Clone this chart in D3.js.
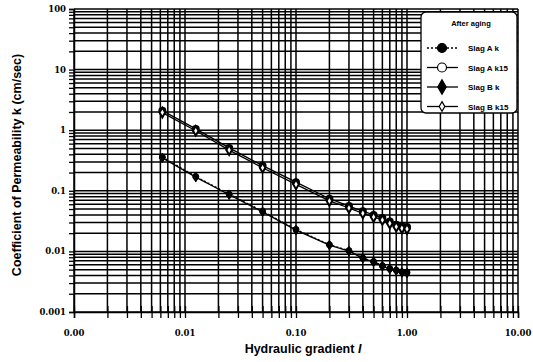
<!DOCTYPE html>
<style>
    body { margin: 0; background: #fff; }
    .tick-label { font-family: "DejaVu Serif", serif; font-size: 8.5px; font-weight: bold; }
    .title { font-family: "Liberation Sans", Arial, sans-serif; font-weight: bold; }
</style>
<svg width="533" height="362"></svg>
<script src="https://d3js.org/d3.v7.min.js"></script>
<script>

    var svg = d3.select("svg"),
        width = +svg.attr("width"),
        height = +svg.attr("height"),
        margin = {top: 9, right: 15, bottom: 50, left: 74};

    // hydraulic gradient values
    var gradient = [0.00625, 0.0125, 0.025, 0.05, 0.1, 0.2, 0.3, 0.4, 0.5, 0.6, 0.7, 0.8, 0.9, 1.0];

    var slagAk   = [0.36, 0.172, 0.088, 0.046, 0.023, 0.0129, 0.0103, 0.0078, 0.0068, 0.0058, 0.0052, 0.0049, 0.0046, 0.0045];
    var slagAk15 = [2.1, 1.05, 0.51, 0.26, 0.139, 0.074, 0.056, 0.046, 0.040, 0.0355, 0.031, 0.0275, 0.026, 0.0252];
    var slagBk   = [0.35, 0.168, 0.086, 0.045, 0.0225, 0.0127, 0.0101, 0.0077, 0.0067, 0.0057, 0.0051, 0.0048, 0.0045, 0.0044];
    var slagBk15 = [1.95, 0.98, 0.47, 0.24, 0.128, 0.068, 0.052, 0.0425, 0.037, 0.033, 0.029, 0.0255, 0.024, 0.0235];

    var xTicks = [0.001, 0.01, 0.1, 1, 10],
        xTickLabels = ["0.00", "0.01", "0.10", "1.00", "10.00"];
    var yTicks = [0.001, 0.01, 0.1, 1, 10, 100],
        yTickLabels = ["0.001", "0.01", "0.1", "1", "10", "100"];

    var series = [
        {name: "Slag A k",   values: slagAk,   marker: "circle",  fill: "#000", dash: "2,2"},
        {name: "Slag A k15", values: slagAk15, marker: "circle",  fill: "#fff", dash: null},
        {name: "Slag B k",   values: slagBk,   marker: "diamond", fill: "#000", dash: null},
        {name: "Slag B k15", values: slagBk15, marker: "diamond", fill: "#fff", dash: null}
    ];

    var x = d3.scaleLog()
        .domain([0.001, 10])
        .range([margin.left, width - margin.right]);

    var y = d3.scaleLog()
        .domain([0.001, 100])
        .range([height - margin.bottom, margin.top]);

    // minor values 1..9 per decade
    var xMinor = [], yMinor = [];
    for (var e = -3; e < 1; e++)
        for (var m = 1; m <= 9; m++) xMinor.push(m * Math.pow(10, e));
    xMinor.push(10);
    for (var e = -3; e < 2; e++)
        for (var m = 1; m <= 9; m++) yMinor.push(m * Math.pow(10, e));
    yMinor.push(100);

    var grid = svg.append("g");

    grid.selectAll("line.h")
        .data(yMinor)
        .enter().append("line")
        .attr("x1", x(0.001)).attr("x2", x(10))
        .attr("y1", function(d) { return y(d); })
        .attr("y2", function(d) { return y(d); })
        .attr("stroke", "#000")
        .attr("stroke-width", 1.5);

    grid.selectAll("line.v")
        .data(xMinor)
        .enter().append("line")
        .attr("y1", y(0.001)).attr("y2", y(100))
        .attr("x1", function(d) { return x(d); })
        .attr("x2", function(d) { return x(d); })
        .attr("stroke", "#000")
        .attr("stroke-width", 1.5);

    // axes
    svg.append("g")
        .attr("transform", "translate(0," + y(0.001) + ")")
        .call(d3.axisBottom(x).tickValues(xMinor).tickSize(6).tickFormat(""))
        .call(function(g) { g.selectAll(".tick line").attr("y1", -6).attr("stroke-width", 1.3); g.select(".domain").attr("stroke-width", 1.5); });

    svg.append("g")
        .attr("transform", "translate(" + x(0.001) + ",0)")
        .call(d3.axisLeft(y).tickValues(yMinor).tickSize(5).tickFormat(""))
        .call(function(g) { g.selectAll(".tick line").attr("stroke-width", 1.3); g.select(".domain").attr("stroke-width", 1.5); });

    svg.append("g").selectAll("text")
        .data(xTicks)
        .enter().append("text")
        .attr("class", "tick-label")
        .attr("x", function(d) { return x(d); })
        .attr("y", y(0.001) + 24)
        .attr("text-anchor", "middle")
        .text(function(d, i) { return xTickLabels[i]; });

    svg.append("g").selectAll("text")
        .data(yTicks)
        .enter().append("text")
        .attr("class", "tick-label")
        .attr("x", x(0.001) - 8)
        .attr("y", function(d) { return y(d) + 3; })
        .attr("text-anchor", "end")
        .text(function(d, i) { return yTickLabels[i]; });

    // titles
    var xt = svg.append("text")
        .attr("class", "title")
        .attr("x", 303)
        .attr("y", 353)
        .attr("text-anchor", "middle")
        .attr("font-size", 12.5);
    xt.append("tspan").text("Hydraulic gradient  ");
    xt.append("tspan").attr("font-style", "italic").text("I");

    svg.append("text")
        .attr("class", "title")
        .attr("transform", "translate(21," + 165 + ") rotate(-90)")
        .attr("text-anchor", "middle")
        .attr("font-size", 12.5)
        .text("Coefficient of Permeability k (cm/sec)");

    // data
    var line = d3.line()
        .x(function(d) { return x(d[0]); })
        .y(function(d) { return y(d[1]); });

    function drawMarker(g, type, fill, size, sw) {
        if (type === "circle")
            g.append("circle").attr("r", size).attr("fill", fill).attr("stroke", "#000").attr("stroke-width", sw);
        else
            g.append("path").attr("d", d3.symbol(d3.symbolDiamond, size * size * 3)()).attr("fill", fill).attr("stroke", "#000").attr("stroke-width", sw);
    }

    series.forEach(function(s) {
        var pts = gradient.map(function(g, i) { return [g, s.values[i]]; });
        svg.append("path")
            .datum(pts)
            .attr("fill", "none")
            .attr("stroke", "#000")
            .attr("stroke-width", 1.3)
            .attr("stroke-dasharray", s.dash)
            .attr("d", line);
        pts.forEach(function(p) {
            var g = svg.append("g").attr("transform", "translate(" + x(p[0]) + "," + y(p[1]) + ")");
            drawMarker(g, s.marker, s.fill, 3, s.fill === "#fff" ? 2 : 1);
        });
    });

    // legend
    var lg = svg.append("g").attr("transform", "translate(421,12)");
    lg.append("rect")
        .attr("width", 96).attr("height", 101)
        .attr("rx", 5)
        .attr("fill", "#fff")
        .attr("stroke", "#000")
        .attr("stroke-width", 1.3);
    lg.append("text")
        .attr("class", "title")
        .attr("x", 50).attr("y", 14)
        .attr("text-anchor", "middle")
        .attr("font-size", 7.5)
        .text("After aging");
    series.forEach(function(s, i) {
        var row = lg.append("g").attr("transform", "translate(0," + (36 + i * 19.5) + ")");
        row.append("line")
            .attr("x1", 6).attr("x2", 37)
            .attr("stroke", "#000").attr("stroke-width", 1.3)
            .attr("stroke-dasharray", s.dash);
        var m = row.append("g").attr("transform", "translate(21,0)");
        drawMarker(m, s.marker, s.fill, i === 3 ? 3 : 4.5, 1.2);
        row.append("text")
            .attr("class", "title")
            .attr("x", 47).attr("y", 3)
            .attr("font-size", 8)
            .text(s.name);
    });

</script>
